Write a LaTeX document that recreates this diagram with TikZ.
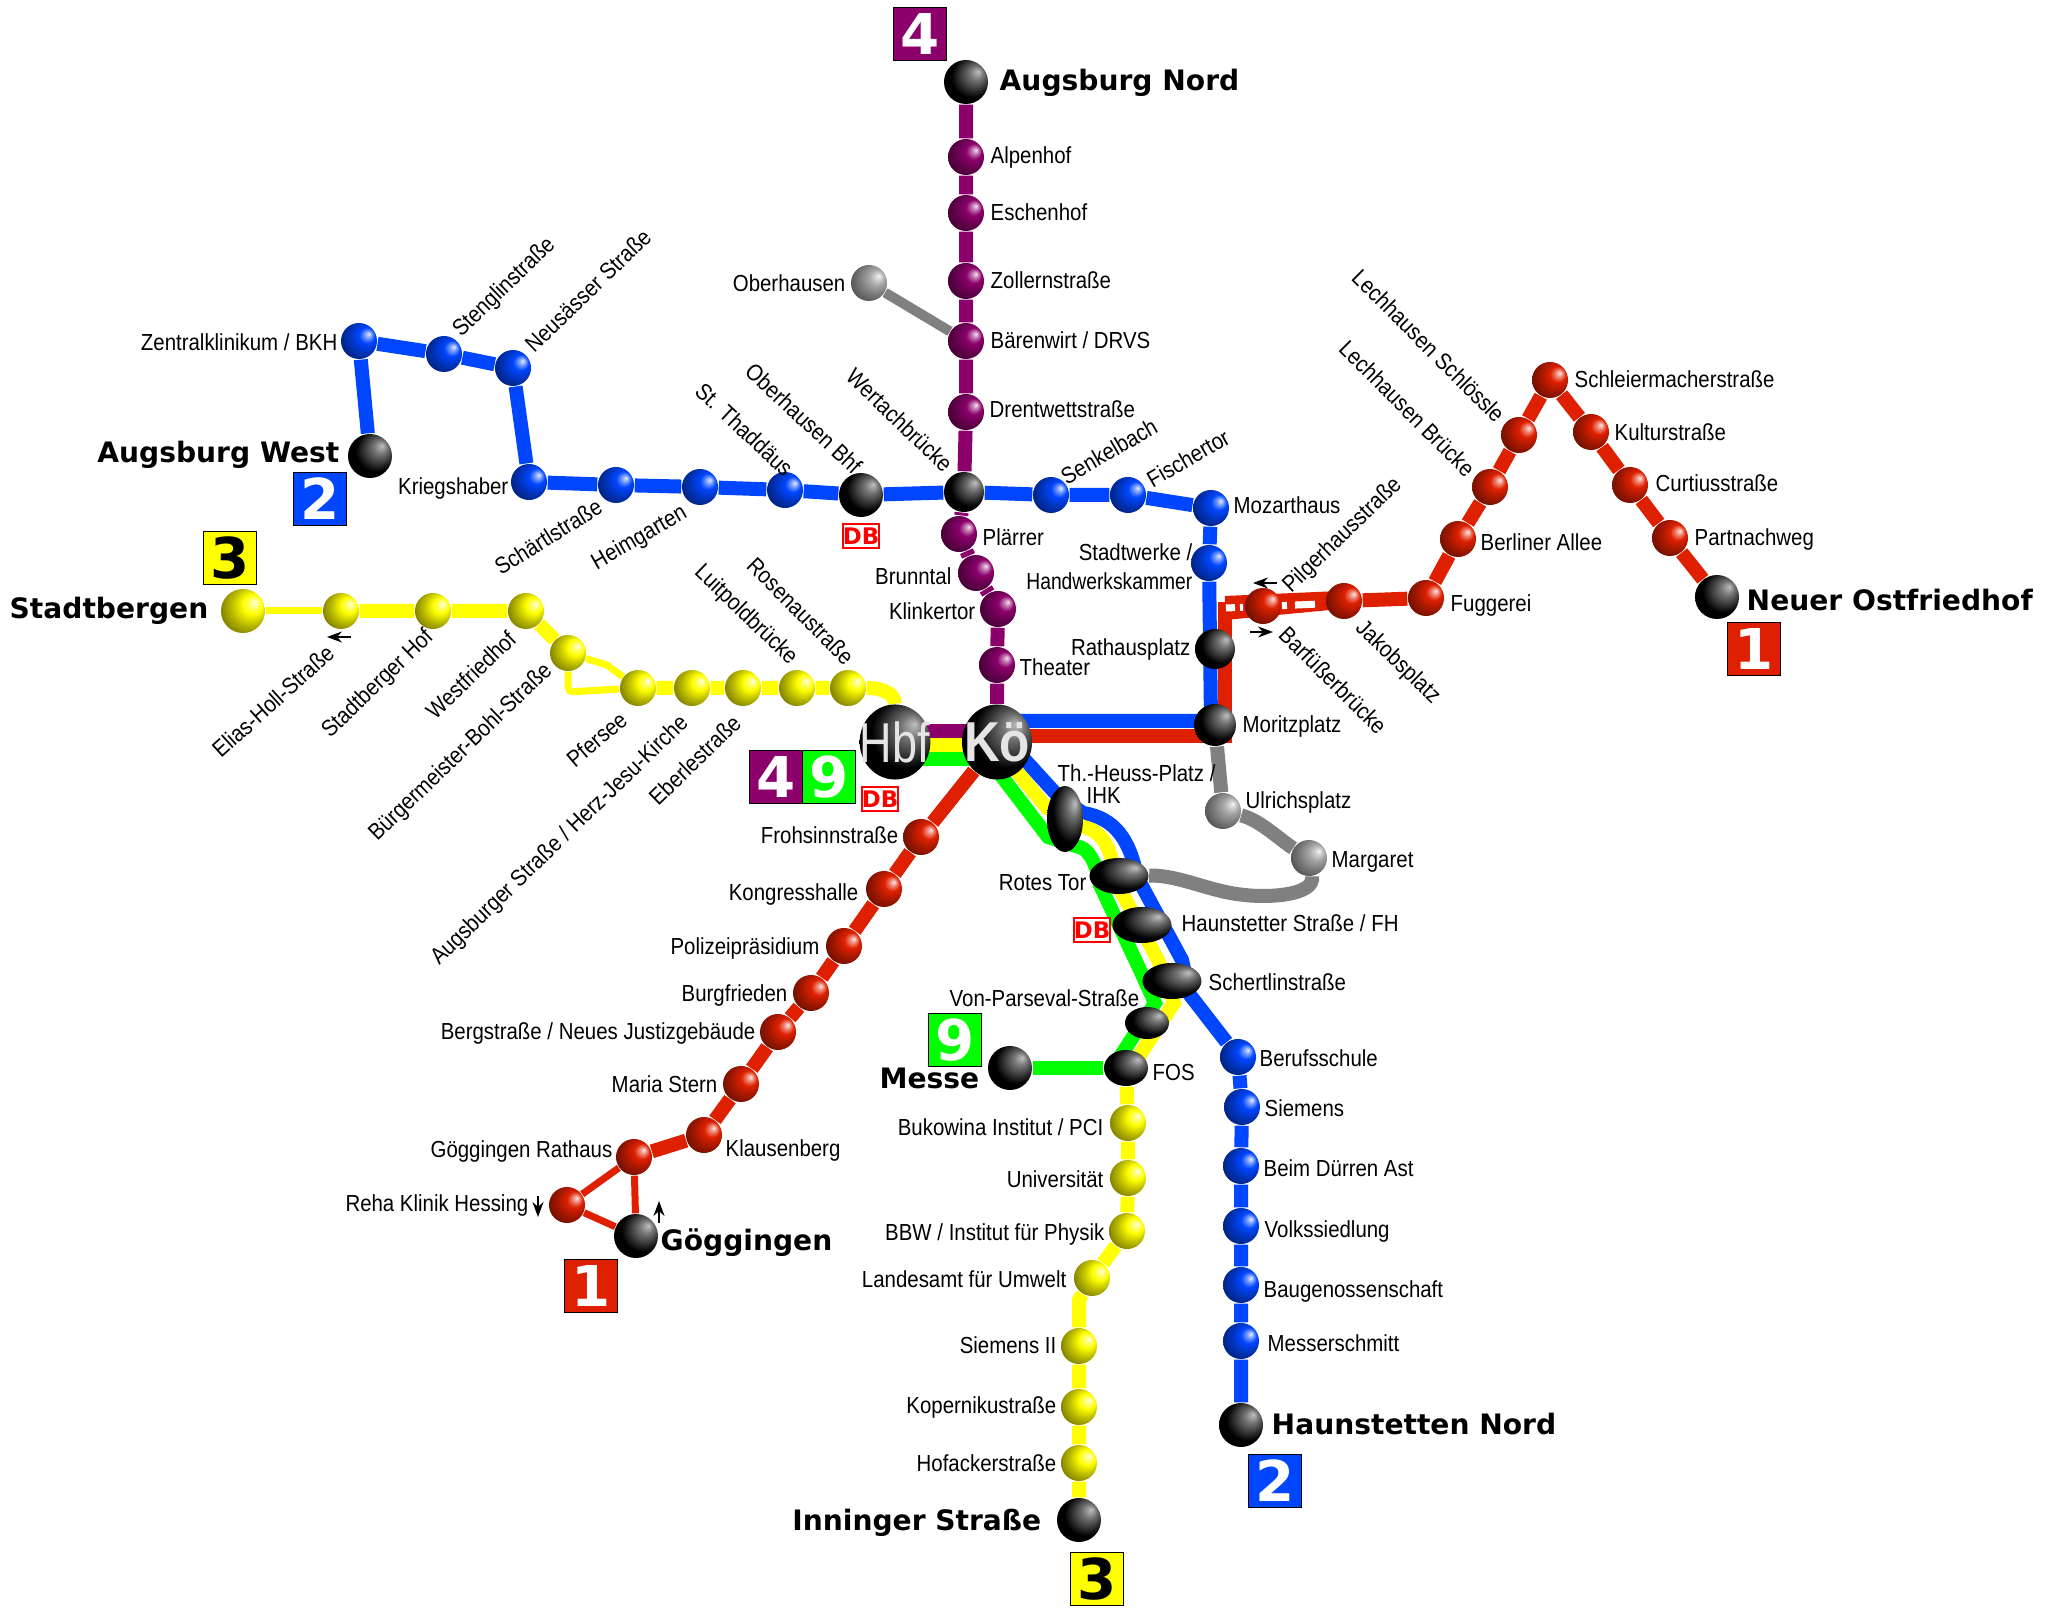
\documentclass[tikz,border=0pt]{standalone}
\usepackage{fontspec}
\setmainfont[FakeStretch=0.88]{Liberation Sans}
\newfontfamily\hubfont[FakeStretch=0.8]{Liberation Sans}
\newfontfamily\tightfont[FakeStretch=0.83]{Liberation Sans}
\newfontfamily\termfont{DejaVu Sans}
\usepackage{xcolor}
\definecolor{linered}{RGB}{222,32,0}
\definecolor{lineblue}{RGB}{0,70,255}
\definecolor{lineyellow}{RGB}{255,255,0}
\definecolor{linegreen}{RGB}{0,255,0}
\definecolor{linepurple}{RGB}{139,0,107}
\definecolor{linegrey}{RGB}{128,128,128}
\usetikzlibrary{arrows.meta,positioning,shapes.geometric,backgrounds}
\pgfdeclareradialshading{darkball}{\pgfqpoint{14bp}{12bp}}{color(0bp)=(black!25!white); color(8bp)=(black!55!white); color(24bp)=(black); color(50bp)=(black)}
\makeatletter
\pgfdeclareradialshading[tikz@ball]{brightball}{\pgfqpoint{14bp}{10bp}}{color(0bp)=(tikz@ball!10!white); color(5bp)=(tikz@ball!55!white); color(11bp)=(tikz@ball); color(22bp)=(tikz@ball!72!black); color(34bp)=(tikz@ball!45!black); color(50bp)=(tikz@ball!20!black)}
\makeatother
\tikzset{
  stopball/.style={circle, inner sep=0pt, minimum size=0.36cm},
  stopred/.style={stopball, ball color=linered, shading=brightball},
  stopblue/.style={stopball, ball color=lineblue, shading=brightball},
  stopyellow/.style={stopball, ball color=lineyellow, shading=brightball},
  stoppurple/.style={stopball, ball color=linepurple, shading=brightball},
  stopgrey/.style={stopball, ball color=linegrey!70!white, shading=brightball},
  endball/.style={circle, inner sep=0pt, minimum size=0.44cm, shading=darkball},
  ovalball/.style={ellipse, inner sep=0pt, minimum width=0.59cm, minimum height=0.36cm, shading=darkball},
  hubball/.style={ellipse, inner sep=-0.1cm, minimum width=0.70cm, minimum height=0.75cm, shading=darkball, text=black!10},
  lbl/.style={inner sep=0pt, text height=0.17cm, text depth=0pt, font=\fontsize{6.6}{7}\selectfont},
  lbleast/.style={lbl, anchor=east},
  lblwest/.style={lbl, anchor=west},
  termlbl/.style={inner sep=0pt, text height=0.2cm, text depth=0pt, font=\termfont\bfseries\fontsize{8}{9}\selectfont},
  linebox/.style={draw=black, line width=0.3pt, minimum size=0.53cm, inner sep=0pt, font=\termfont\bfseries\fontsize{16}{16}\selectfont},
  dbbox/.style={draw=red, fill=white, line width=0.7pt, minimum width=0.35cm, minimum height=0.24cm, inner sep=0pt, text=red, font=\termfont\bfseries\fontsize{6.5}{6.5}\selectfont},
  route/.style={line width=0.14cm},
  thinroute/.style={line width=0.07cm},
  dirarrow/.style={-{Stealth[length=0.15cm,width=0.11cm]}, line width=0.3pt}
}
\begin{document}
\begin{tikzpicture}[x=0.01cm, y=-0.01cm]
  \useasboundingbox (0,0) rectangle (2048,1613);
  % Line 4
  \node[endball] (nord) at (966,82) {};
  \node[stoppurple] (alpenhof) at (966,157) {};
  \node[stoppurple] (eschenhof) at (966,213) {};
  \node[stoppurple] (zollern) at (966,281) {};
  \node[stoppurple] (baerenwirt) at (966,341) {};
  \node[stoppurple] (drentwett) at (966,412) {};
  \node[endball, minimum size=0.40cm] (wertach) at (964,492) {};
  \node[stoppurple] (plaerrer) at (959,534) {};
  \node[stoppurple] (brunntal) at (976,573) {};
  \node[stoppurple] (klinkertor) at (998,609) {};
  \node[stoppurple] (theater) at (997,665) {};
  \node[hubball, font=\hubfont\fontsize{16}{16}\selectfont] (hbf) at (895,742) {Hbf};
  \node[hubball, font=\bfseries\fontsize{16}{16}\selectfont] (koe) at (997,742) {Kö};
  \node[stopgrey] (oberhausen) at (869,283) {};
  \node[lblwest] (alpenhoftxt) at (990,155) {Alpenhof};
  \node[lblwest] (eschenhoftxt) at (990,212) {Eschenhof};
  \node[lblwest] (zollerntxt) at (990,280) {Zollernstraße};
  \node[lblwest] (baerenwirttxt) at (990,340) {Bärenwirt / DRVS};
  \node[lblwest] (drentwetttxt) at (989,409) {Drentwettstraße};
  \node[lblwest] (plaerrertxt) at (982,537) {Plärrer};
  \node[lbleast] (brunntaltxt) at (952,576) {Brunntal};
  \node[lbleast] (klinkertortxt) at (976,611) {Klinkertor};
  \node[lblwest] (theatertxt) at (1019,667) {Theater};
  \node[lbleast] (oberhausentxt) at (846,283) {Oberhausen};
  \node[termlbl, anchor=west] (nordtxt) at (999,81) {Augsburg Nord};
  \node[linebox, fill=linepurple, text=white] (boxnord) at (920,34) {4};
  % Line 2
  \node[endball] (west) at (370,456) {};
  \node[stopblue] (zentral) at (359,341) {};
  \node[stopblue] (stenglin) at (444,354) {};
  \node[stopblue] (neusaess) at (513,368) {};
  \node[stopblue] (kriegshaber) at (529,482) {};
  \node[stopblue] (schaertl) at (616,485) {};
  \node[stopblue] (heimgarten) at (700,487) {};
  \node[stopblue] (thaddaeus) at (785,490) {};
  \node[endball] (oberhausenbhf) at (861,495) {};
  \node[stopblue] (senkelbach) at (1051,495) {};
  \node[stopblue] (fischertor) at (1128,495) {};
  \node[stopblue] (mozart) at (1211,508) {};
  \node[stopblue] (stadtwerke) at (1209,563) {};
  \node[endball, minimum width=0.40cm, minimum height=0.36cm] (rathaus) at (1215,649) {};
  \node[endball, minimum size=0.42cm] (moritz) at (1215,725) {};
  \node[stopblue] (berufs) at (1238,1057) {};
  \node[stopblue] (siemens) at (1242,1107) {};
  \node[stopblue] (duerren) at (1241,1166) {};
  \node[stopblue] (volks) at (1241,1226) {};
  \node[stopblue] (baugen) at (1241,1285) {};
  \node[stopblue] (messerschmitt) at (1241,1341) {};
  \node[endball] (haunstetten) at (1241,1425) {};
  \node[lbleast] (zentraltxt) at (338,342) {Zentralklinikum / BKH};
  \node[lbleast] (kriegshabertxt) at (509,486) {Kriegshaber};
  \node[lblwest, rotate=44] (stenglintxt) at (455,332) {Stenglinstraße};
  \node[lblwest, rotate=44] (neusaesstxt) at (528,348) {Neusässer Straße};
  \node[lblwest, rotate=32] (schaertltxt) at (496,569) {Schärtlstraße};
  \node[lblwest, rotate=30] (heimgartentxt) at (592,563) {Heimgarten};
  \node[lblwest, rotate=-43] (thaddaeustxt) at (699,387) {St. Thaddäus};
  \node[lblwest, rotate=-43] (oberhausenbhftxt) at (749,367) {Oberhausen Bhf};
  \node[lblwest, rotate=-44] (wertachtxt) at (850,372) {Wertachbrücke};
  \node[lblwest, rotate=30] (senkelbachtxt) at (1062,478) {Senkelbach};
  \node[lblwest, rotate=30] (fischertortxt) at (1148,481) {Fischertor};
  \node[lblwest] (mozarttxt) at (1233,505) {Mozarthaus};
  \node[lbleast] (stadtwerketxt) at (1193,552) {Stadtwerke /};
  \node[lbleast, font=\tightfont\fontsize{6.6}{7}\selectfont] (handwerktxt) at (1193,581) {Handwerkskammer};
  \node[lbleast] (rathaustxt) at (1191,647) {Rathausplatz};
  \node[lblwest] (moritztxt) at (1242,724) {Moritzplatz};
  \node[lblwest] (berufstxt) at (1259,1058) {Berufsschule};
  \node[lblwest] (siemenstxt) at (1264,1108) {Siemens};
  \node[lblwest] (duerrentxt) at (1263,1168) {Beim Dürren Ast};
  \node[lblwest] (volkstxt) at (1264,1229) {Volkssiedlung};
  \node[lblwest] (baugentxt) at (1263,1289) {Baugenossenschaft};
  \node[lblwest] (messerschmitttxt) at (1267,1343) {Messerschmitt};
  \node[termlbl, anchor=east] (westtxt) at (340,453) {Augsburg West};
  \node[termlbl, anchor=west] (haunstettentxt) at (1271,1424) {Haunstetten Nord};
  \node[linebox, fill=lineblue, text=white] (boxwest) at (320,499) {2};
  \node[linebox, fill=lineblue, text=white] (boxhaunstetten) at (1275,1481) {2};
  \node[dbbox] (dbbhf) at (861,536) {DB};
  % Line 3
  \node[stopyellow, minimum size=0.44cm] (stadtbergen) at (243,611) {};
  \node[stopyellow] (elias) at (341,611) {};
  \node[stopyellow] (stadtberger) at (433,611) {};
  \node[stopyellow] (westfriedhof) at (526,611) {};
  \node[stopyellow] (buergermeister) at (568,653) {};
  \node[stopyellow] (pfersee) at (638,688) {};
  \node[stopyellow] (herzjesu) at (692,688) {};
  \node[stopyellow] (eberle) at (743,688) {};
  \node[stopyellow] (luitpold) at (797,688) {};
  \node[stopyellow] (rosenau) at (848,688) {};
  \node[stopyellow] (bukowina) at (1128,1123) {};
  \node[stopyellow] (uni) at (1128,1178) {};
  \node[stopyellow] (bbw) at (1127,1231) {};
  \node[stopyellow] (landesamt) at (1092,1278) {};
  \node[stopyellow] (siemenszwei) at (1079,1346) {};
  \node[stopyellow] (kopernikus) at (1079,1407) {};
  \node[stopyellow] (hofacker) at (1079,1463) {};
  \node[endball] (inninger) at (1079,1520) {};
  \node[termlbl, anchor=east] (stadtbergentxt) at (209,609) {Stadtbergen};
  \node[lblwest, rotate=42] (eliastxt) at (215,753) {Elias-Holl-Straße};
  \node[lblwest, rotate=44] (stadtbergertxt) at (324,733) {Stadtberger Hof};
  \node[lblwest, rotate=44] (westfriedhoftxt) at (429,715) {Westfriedhof};
  \node[lblwest, rotate=44] (buergertxt) at (371,836) {Bürgermeister-Bohl-Straße};
  \node[lblwest, rotate=40] (pferseetxt) at (569,762) {Pfersee};
  \node[lblwest, rotate=44] (herzjesutxt) at (433,960) {Augsburger Straße / Herz-Jesu-Kirche};
  \node[lblwest, rotate=44] (eberletxt) at (652,801) {Eberlestraße};
  \node[lblwest, rotate=-44] (luitpoldtxt) at (699,567) {Luitpoldbrücke};
  \node[lblwest, rotate=-45] (rosenautxt) at (751,561) {Rosenaustraße};
  \node[lbleast] (bukowinatxt) at (1104,1127) {Bukowina Institut / PCI};
  \node[lbleast] (unitxt) at (1104,1179) {Universität};
  \node[lbleast] (bbwtxt) at (1105,1232) {BBW / Institut für Physik};
  \node[lbleast] (landesamttxt) at (1067,1279) {Landesamt für Umwelt};
  \node[lbleast] (siemenszweitxt) at (1057,1345) {Siemens II};
  \node[lbleast] (kopernikustxt) at (1057,1405) {Kopernikustraße};
  \node[lbleast] (hofackertxt) at (1057,1463) {Hofackerstraße};
  \node[termlbl, anchor=east] (inningertxt) at (1042,1520) {Inninger Straße};
  \node[linebox, fill=lineyellow, text=black] (boxstadtbergen) at (230,558) {3};
  \node[linebox, fill=lineyellow, text=black] (boxinninger) at (1097,1579) {3};
  % Line 1
  \node[endball] (ostfriedhof) at (1717,597) {};
  \node[stopred] (partnach) at (1670,538) {};
  \node[stopred] (curtius) at (1630,485) {};
  \node[stopred] (kultur) at (1591,432) {};
  \node[stopred] (schleier) at (1550,380) {};
  \node[stopred] (schloessle) at (1519,435) {};
  \node[stopred] (lechbruecke) at (1490,487) {};
  \node[stopred] (berliner) at (1458,539) {};
  \node[stopred] (fuggerei) at (1426,598) {};
  \node[stopred] (jakob) at (1344,601) {};
  \node[stopred] (barfuesser) at (1263,606) {};
  \node[stopred] (frohsinn) at (921,837) {};
  \node[stopred] (kongress) at (884,889) {};
  \node[stopred] (polizei) at (844,946) {};
  \node[stopred] (burgfrieden) at (811,993) {};
  \node[stopred] (bergstr) at (778,1032) {};
  \node[stopred] (mariastern) at (741,1084) {};
  \node[stopred] (klausenberg) at (704,1135) {};
  \node[stopred] (goeggrathaus) at (634,1157) {};
  \node[stopred] (reha) at (567,1205) {};
  \node[endball] (goeggingen) at (636,1236) {};
  \node[lblwest] (schleiertxt) at (1574,379) {Schleiermacherstraße};
  \node[lblwest] (kulturtxt) at (1614,432) {Kulturstraße};
  \node[lblwest] (curtiustxt) at (1655,483) {Curtiusstraße};
  \node[lblwest] (partnachtxt) at (1694,537) {Partnachweg};
  \node[lblwest] (berlinertxt) at (1480,542) {Berliner Allee};
  \node[lblwest] (fuggereitxt) at (1450,603) {Fuggerei};
  \node[lblwest, rotate=-45] (schloessletxt) at (1356,273) {Lechhausen Schlössle};
  \node[lblwest, rotate=-45] (lechbrueckentxt) at (1343,344) {Lechhausen Brücke};
  \node[lblwest, rotate=44] (pilgertxt) at (1285,588) {Pilgerhausstraße};
  \node[lblwest, rotate=-45] (barfuessertxt) at (1283,630) {Barfüßerbrücke};
  \node[lblwest, rotate=-44] (jakobtxt) at (1360,623) {Jakobsplatz};
  \node[lbleast] (frohsinntxt) at (899,835) {Frohsinnstraße};
  \node[lbleast] (kongresstxt) at (859,892) {Kongresshalle};
  \node[lbleast] (polizeitxt) at (820,946) {Polizeipräsidium};
  \node[lbleast] (burgfriedentxt) at (788,993) {Burgfrieden};
  \node[lbleast] (bergstrtxt) at (756,1031) {Bergstraße / Neues Justizgebäude};
  \node[lbleast] (mariasterntxt) at (718,1084) {Maria Stern};
  \node[lblwest] (klausenbergtxt) at (725,1148) {Klausenberg};
  \node[lbleast] (goeggrathaustxt) at (613,1149) {Göggingen Rathaus};
  \node[lbleast] (rehatxt) at (529,1203) {Reha Klinik Hessing};
  \node[termlbl, anchor=west] (ostfriedhoftxt) at (1746,601) {Neuer Ostfriedhof};
  \node[termlbl, anchor=west] (goeggingentxt) at (660,1240) {Göggingen};
  \node[linebox, fill=linered, text=white] (boxost) at (1754,649) {1};
  \node[linebox, fill=linered, text=white] (boxgoeggingen) at (591,1286) {1};
  % Shared section and line 9
  \node[ovalball, minimum width=0.36cm, minimum height=0.66cm] (heuss) at (1065,819) {};
  \node[ovalball] (rotestor) at (1119,876) {};
  \node[ovalball] (haunstetterstr) at (1142,925) {};
  \node[ovalball] (schertlin) at (1172,981) {};
  \node[ovalball, minimum width=0.44cm, minimum height=0.32cm] (parseval) at (1147,1023) {};
  \node[ovalball, minimum width=0.44cm, minimum height=0.36cm] (fos) at (1126,1068) {};
  \node[endball] (messe) at (1010,1068) {};
  \node[stopgrey] (ulrich) at (1223,811) {};
  \node[stopgrey] (margaret) at (1309,858) {};
  \node[lblwest] (heusstxt) at (1057,773) {Th.-Heuss-Platz /};
  \node[lblwest] (ihktxt) at (1086,795) {IHK};
  \node[lbleast] (rotestortxt) at (1087,882) {Rotes Tor};
  \node[lblwest] (haunstettertxt) at (1181,923) {Haunstetter Straße / FH};
  \node[lblwest] (schertlintxt) at (1208,982) {Schertlinstraße};
  \node[lbleast] (parsevaltxt) at (1140,998) {Von-Parseval-Straße};
  \node[lblwest] (fostxt) at (1152,1072) {FOS};
  \node[lblwest] (ulrichtxt) at (1245,800) {Ulrichsplatz};
  \node[lblwest] (margarettxt) at (1331,859) {Margaret};
  \node[termlbl, anchor=east] (messetxt) at (980,1078) {Messe};
  \node[linebox, fill=linegreen, text=white] (boxmesse) at (955,1040) {9};
  \node[linebox, fill=linepurple, text=white] (boxhbfa) at (776,777) {4};
  \node[linebox, fill=linegreen, text=white] (boxhbfb) at (829,777) {9};
  \node[dbbox] (dbhbf) at (880,799) {DB};
  \node[dbbox] (dbhaunstetter) at (1092,930) {DB};
  % Bends and lane ends
  \coordinate (hbfpurple) at (895,731);
  \coordinate (koepurple) at (997,731);
  \coordinate (hbfyellow) at (895,745);
  \coordinate (koeyellow) at (997,745);
  \coordinate (hbfgreen) at (895,759);
  \coordinate (koegreen) at (997,759);
  \coordinate (koeblue) at (997,721);
  \coordinate (koered) at (997,736);
  \coordinate (moritzblue) at (1211,721);
  \coordinate (moritzred) at (1225,736);
  \coordinate (barfua) at (1225,602);
  \coordinate (barfub) at (1225,614);
  \coordinate (jakoba) at (1340,597);
  \coordinate (jakobb) at (1340,603);
  \coordinate (dasha) at (1226,608);
  \coordinate (dashb) at (1320,604);
  \coordinate (yellowupper) at (607,665);
  \coordinate (yellowlower) at (568,692);
  \coordinate (landbend) at (1079,1300);
  \begin{scope}[on background layer]
    \fill[white] (0,0) rectangle (2048,1613);
    % Routes
    \draw[route, linegrey] (moritz) -- (ulrich) .. controls (1260,820) and (1280,840) .. (margaret) .. controls (1315,895) and (1270,898) .. (1245,895) .. controls (1210,892) and (1180,875) .. (rotestor);
    \draw[line width=0.1cm, linegrey] (oberhausen) -- (baerenwirt);
    \draw[route, linepurple] (nord) -- (alpenhof) -- (eschenhof) -- (zollern) -- (baerenwirt) -- (drentwett) -- (wertach) -- (plaerrer) -- (brunntal) -- (klinkertor) -- (theater) -- (koe);
    \draw[route, linepurple] (hbfpurple) -- (koepurple);
    \draw[route, lineyellow] (hbfyellow) -- (koeyellow);
    \draw[route, linegreen] (hbfgreen) -- (koegreen);
    \draw[route, linered] (koered) -- (moritzred) -- (barfua);
    \draw[route, lineblue] (west) -- (zentral) -- (stenglin) -- (neusaess) -- (kriegshaber) -- (schaertl) -- (heimgarten) -- (thaddaeus) -- (oberhausenbhf) -- (wertach) -- (senkelbach) -- (fischertor) -- (mozart) -- (stadtwerke) -- (moritzblue) -- (koeblue);
    \draw[route, linered] (ostfriedhof) -- (partnach) -- (curtius) -- (kultur) -- (schleier) -- (schloessle) -- (lechbruecke) -- (berliner) -- (fuggerei) -- (jakob);
    \draw[line width=0.12cm, linered] (barfua) -- (jakoba);
    \draw[line width=0.12cm, linered] (barfub) -- (jakobb);
    \draw[line width=0.07cm, white, dash pattern=on 0.09cm off 0.05cm on 0.03cm off 0.39cm on 0.05cm off 0.08cm on 0.2cm off 1cm] (dasha) -- (dashb);
    \draw[route, linered] (koe) -- (frohsinn) -- (kongress) -- (polizei) -- (burgfrieden) -- (bergstr) -- (mariastern) -- (klausenberg) -- (goeggrathaus);
    \draw[thinroute, linered] (goeggrathaus) -- (reha) -- (goeggingen) -- (goeggrathaus);
    \draw[thinroute, lineyellow] (stadtbergen) -- (elias);
    \draw[route, lineyellow] (elias) -- (stadtberger) -- (westfriedhof) -- (buergermeister);
    \draw[thinroute, lineyellow] (buergermeister) -- (yellowupper) -- (pfersee);
    \draw[thinroute, lineyellow, rounded corners=0.05cm] (buergermeister) -- (yellowlower) -- (pfersee);
    \draw[route, lineyellow] (pfersee) -- (herzjesu) -- (eberle) -- (luitpold) -- (rosenau) .. controls (885,688) and (895,695) .. (hbf);
    \draw[route, lineyellow] (fos) -- (bukowina) -- (uni) -- (bbw) -- (landesamt) -- (landbend) -- (siemenszwei) -- (kopernikus) -- (hofacker) -- (inninger);
    \draw[route, linegreen] (messe) -- (fos);
    % Shared section
    \draw[route, lineblue] (1005,738) -- (1057,795) -- (1083,813) .. controls (1115,818) and (1130,840) .. (1137,877) -- (1182,960) -- (1190,995) -- (berufs) -- (siemens) -- (duerren) -- (volks) -- (baugen) -- (messerschmitt) -- (haunstetten);
    \draw[route, lineyellow] (1000,751) -- (1047,808) -- (1083,827) .. controls (1100,830) and (1112,845) .. (1115,880) -- (1158,960) -- (1174,1003) -- (1130,1070);
    \draw[route, linegreen] (990,761) -- (1048,837) -- (1082,848) .. controls (1090,852) and (1097,865) .. (1100,885) -- (1140,970) -- (1155,1003) -- (1118,1060);
  \end{scope}
  % Direction arrows
  \coordinate (pilgerarrowa) at (1277,583);
  \coordinate (pilgerarrowb) at (1253,583);
  \coordinate (barfuarrowa) at (1250,632);
  \coordinate (barfuarrowb) at (1273,632);
  \coordinate (eliasarrowa) at (351,637);
  \coordinate (eliasarrowb) at (327,637);
  \coordinate (reharrowa) at (538,1196);
  \coordinate (reharrowb) at (538,1217);
  \coordinate (goegarrowa) at (659,1223);
  \coordinate (goegarrowb) at (659,1201);
  \draw[dirarrow] (pilgerarrowa) -- (pilgerarrowb);
  \draw[dirarrow] (barfuarrowa) -- (barfuarrowb);
  \draw[dirarrow] (eliasarrowa) -- (eliasarrowb);
  \draw[dirarrow] (reharrowa) -- (reharrowb);
  \draw[dirarrow] (goegarrowa) -- (goegarrowb);
\end{tikzpicture}
\end{document}
